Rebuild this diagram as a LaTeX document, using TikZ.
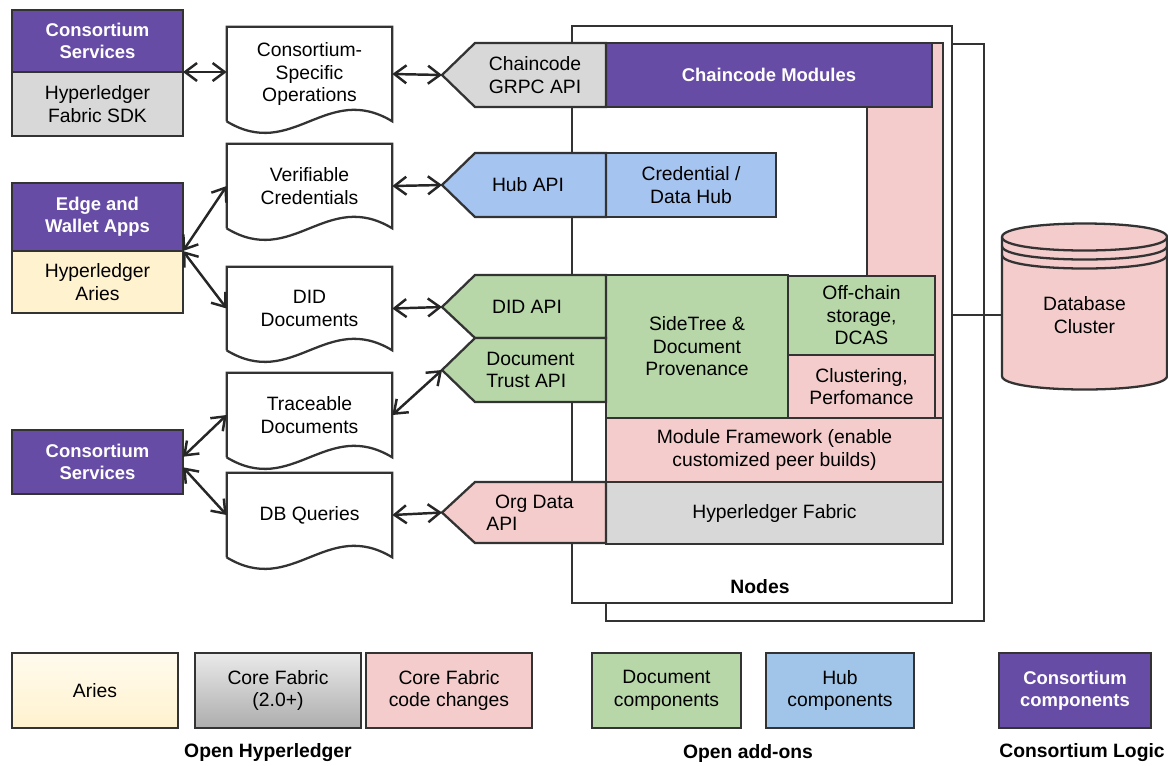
\documentclass[tikz,border=0pt]{standalone}
\usepackage{fontspec}
\setmainfont{Liberation Sans}
\usetikzlibrary{arrows.meta,positioning,calc}

\definecolor{consortium}{RGB}{102,76,165}
\definecolor{fabricgrey}{RGB}{216,216,216}
\definecolor{ariescream}{RGB}{255,242,206}
\definecolor{codepink}{RGB}{244,204,204}
\definecolor{docgreen}{RGB}{183,215,168}
\definecolor{hubblue}{RGB}{166,196,240}
\definecolor{hublegend}{RGB}{160,197,232}
\definecolor{edgegrey}{RGB}{51,51,51}

\tikzset{box/.style={rectangle,draw=edgegrey,line width=1.3pt,outer sep=0pt,inner sep=1pt,align=center,font=\fontsize{11}{12.8}\selectfont},
         box size/.style 2 args={minimum width=#1*0.02cm,minimum height=#2*0.02cm},
         purple box/.style={fill=consortium,text=white,font=\fontsize{10.5}{12.5}\selectfont\bfseries},
         doc node/.style={rectangle,inner sep=0pt,align=center,minimum width=3.3cm,font=\fontsize{11}{12.8}\selectfont},
         doc line/.style={draw=edgegrey,line width=1.3pt,line join=miter},
         api line/.style={draw=edgegrey,line width=1.3pt,line join=miter},
         api text/.style={inner sep=0pt,align=center,font=\fontsize{11}{12.8}\selectfont},
         frame line/.style={draw=edgegrey,line width=1.1pt,outer sep=0pt},
         dbl arrow/.style={<->,line width=1.4pt,draw=black!85},
         group title/.style={inner sep=0pt,font=\fontsize{11}{13}\selectfont\bfseries}
}

% wavy bottom of a document
\newcommand{\docshape}[1]{%
  \draw[doc line] (#1.south west) -- (#1.north west) -- (#1.north east) -- (#1.south east)
    .. controls ($(#1.south east)+(-66,-40)$) and ($(#1.south west)+(66,40)$) .. (#1.south west);}

\begin{document}
\begin{tikzpicture}[x=0.02cm,y=-0.02cm,>={Straight Barb[length=2.4mm,width=3.6mm]}]
\useasboundingbox (0,0) rectangle (1168,765);

% client side
\node[box,purple box,box size={171}{62}] (cs top) at (97.5,41) {Consortium\\Services};
\node[box,fill=fabricgrey,box size={171}{64},below=0pt of cs top] (sdk) {Hyperledger\\Fabric SDK};
\node[box,purple box,box size={171}{68}] (wallet) at (97.5,217) {Edge and\\Wallet Apps};
\node[box,fill=ariescream,box size={171}{62},below=0pt of wallet] (aries) {Hyperledger\\Aries};
\node[box,purple box,box size={171}{64}] (cs low) at (97.5,462) {Consortium\\Services};

% documents
\node[doc node,minimum height=94*0.02cm] (ops) at (309.5,74) {Consortium-\\Specific\\Operations};
\node[doc node,minimum height=84*0.02cm] (vc) at (309.5,186) {Verifiable\\Credentials};
\node[doc node,minimum height=83*0.02cm] (diddoc) at (309.5,308.5) {DID\\Documents};
\node[doc node,minimum height=84*0.02cm] (trace) at (309.5,415) {Traceable\\Documents};
\node[doc node,minimum height=84*0.02cm] (dbq) at (309.5,515) {DB Queries};
\docshape{ops}
\docshape{vc}
\docshape{diddoc}
\docshape{trace}
\docshape{dbq}

% peer frames
\node[box,frame line,box size={378}{577}] (back) at (795,332.5) {};
\node[box,frame line,fill=white,box size={380}{577}] (front) at (762,314.5) {};
\node[group title] (nodes label) at (760,587) {Nodes};

% fabric internals
\node[box,fill=codepink,box size={76}{375}] (strip) at (905,230.5) {};
\node[box,purple box,box size={326}{64}] (ccmod) at (769,75) {Chaincode Modules};
\node[box,fill=hubblue,box size={170}{64}] (credhub) at (691,185) {Credential /\\Data Hub};
\node[box,fill=docgreen,box size={182}{143}] (sidetree) at (697,346.5) {SideTree \&\\Document\\Provenance};
\node[box,fill=docgreen,box size={147}{79}] (offchain) at (861.5,315.5) {Off-chain\\storage,\\DCAS};
\node[box,fill=codepink,box size={147}{63}] (cluster) at (861.5,386.5) {Clustering,\\Perfomance};
\node[box,fill=codepink,box size={337}{64}] (modfw) at (774.5,450) {Module Framework (enable\\customized peer builds)};
\node[box,fill=fabricgrey,box size={337}{62}] (hlf) at (774.5,513) {Hyperledger Fabric};

% API shapes
\filldraw[api line,fill=fabricgrey] (606,43) -- (475,43) -- (442,75) coordinate (grpc tip) -- (475,107) -- (606,107) -- cycle;
\filldraw[api line,fill=hubblue] (606,153) -- (475,153) -- (442,185) coordinate (hub tip) -- (475,217) -- (606,217) -- cycle;
\filldraw[api line,fill=docgreen] (606,275) -- (475,275) -- (442,307) coordinate (did tip) -- (475,338) -- (606,338) -- cycle;
\filldraw[api line,fill=docgreen] (606,338) -- (475,338) -- (442,370) coordinate (trust tip) -- (475,402) -- (606,402) -- cycle;
\filldraw[api line,fill=codepink] (606,482) -- (475,482) -- (442,512.5) coordinate (org tip) -- (475,543) -- (606,543) -- cycle;
\node[api text] (grpc) at (535,75) {Chaincode\\GRPC API};
\node[api text] (hubapi) at (528,185) {Hub API};
\node[api text] (didapi) at (527,307) {DID API};
\node[api text,align=left,anchor=west] (trustapi) at (486,370) {Document\\Trust API};
\node[api text,align=left,anchor=west] (orgapi) at (486,512.5) {\hspace*{5pt}Org Data\\API};

% database
\filldraw[api line,fill=codepink] (1002,237) -- (1002,376) .. controls (1002,394) and (1167,394) .. (1167,376)
  -- (1167,237) .. controls (1167,219) and (1002,219) .. (1002,237) -- cycle;
\draw[api line] (1002,237) .. controls (1002,255) and (1167,255) .. (1167,237);
\draw[api line] (1002,246) .. controls (1002,264) and (1167,264) .. (1167,246);
\draw[api line] (1002,255) .. controls (1002,273) and (1167,273) .. (1167,255);
\node[api text,minimum width=3.3cm] (db) at (1084.5,315) {Database\\Cluster};
\draw[frame line] (db.west -| front.east) -- (db.west);

% connectors
\draw[dbl arrow] (cs top.south east) -- (cs top.south east -| ops.west);
\draw[dbl arrow] (wallet.south east) -- (vc.west);
\draw[dbl arrow] (wallet.south east) -- (diddoc.west);
\draw[dbl arrow] ([yshift=3pt]cs low.east) -- (trace.west);
\draw[dbl arrow] ([yshift=-3pt]cs low.east) -- (dbq.west);
\draw[dbl arrow] (ops.east) -- (grpc tip);
\draw[dbl arrow] (vc.east) -- (hub tip);
\draw[dbl arrow] (diddoc.east) -- (did tip);
\draw[dbl arrow] (trace.east) -- (trust tip);
\draw[dbl arrow] (dbq.east) -- (org tip);

% legend
\node[box,top color=ariescream!35,bottom color=ariescream,box size={166}{75}] (leg aries) at (95,690.5) {Aries};
\node[box,top color=fabricgrey!55,bottom color=fabricgrey!80!black,box size={166}{75}] (leg core) at (278,690.5) {Core Fabric\\(2.0+)};
\node[box,fill=codepink,box size={166}{75}] (leg code) at (449,690.5) {Core Fabric\\code changes};
\node[box,fill=docgreen,box size={149}{75}] (leg doc) at (666.5,690.5) {Document\\components};
\node[box,fill=hublegend,box size={148}{75}] (leg hub) at (840,690.5) {Hub\\components};
\node[box,purple box,box size={152}{75}] (leg cons) at (1075,690.5) {Consortium\\components};
\node[group title] (open hl) at (268,753) {Open Hyperledger};
\node[group title] (open add) at (748,753) {Open add-ons};
\node[group title] (cons logic) at (1082,753) {Consortium Logic};

\end{tikzpicture}
\end{document}
